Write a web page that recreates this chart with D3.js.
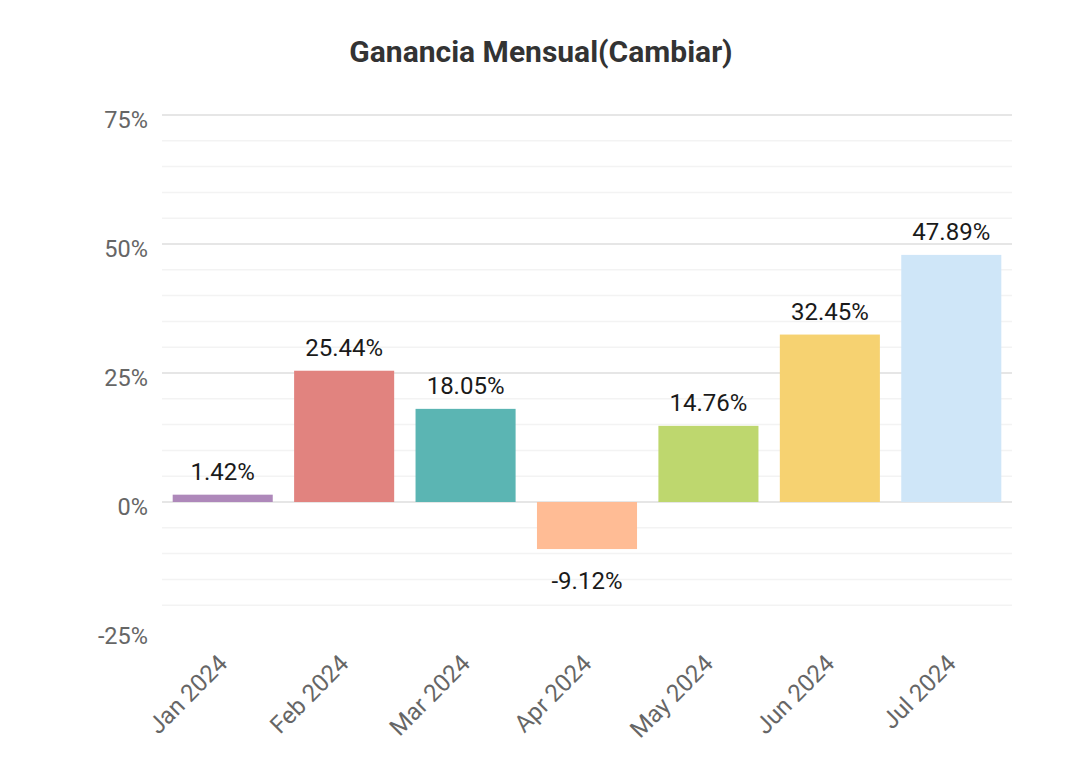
<!DOCTYPE html>
<html>
<head>
    <meta charset="utf-8">
    <title>Ganancia Mensual</title>
    <script src="https://d3js.org/d3.v7.min.js"></script>
    <style>
        body { margin: 0; background: #fff; }
        svg { font-family: Roboto, "Noto Sans", sans-serif; }
    </style>
</head>
<body>
<svg id="chart" width="1080" height="779"></svg>
<script>
    const months = ["Jan 2024", "Feb 2024", "Mar 2024", "Apr 2024", "May 2024", "Jun 2024", "Jul 2024"];
    const gains = [1.42, 25.44, 18.05, -9.12, 14.76, 32.45, 47.89];
    const barColors = ["#ae88ba", "#e1837f", "#5bb5b3", "#ffbc95", "#bed76e", "#f6d271", "#cfe6f8"];
    const yTicks = [-25, 0, 25, 50, 75];
    const minorTicks = d3.range(-20, 76, 5);

    const svg = d3.select("#chart");
    const left = 162, right = 1012;

    const x = d3.scaleBand()
        .domain(months)
        .range([left, right])
        .paddingInner(0.176)
        .paddingOuter(0.088);

    const y = d3.scaleLinear()
        .domain([-25, 75])
        .range([631, 115]);

    // grid lines
    svg.append("g")
        .selectAll("line")
        .data(minorTicks)
        .join("line")
        .attr("x1", left)
        .attr("x2", right)
        .attr("y1", d => y(d))
        .attr("y2", d => y(d))
        .attr("stroke", d => d % 25 === 0 ? "#e6e6e6" : "#f3f3f3")
        .attr("stroke-width", d => d % 25 === 0 ? 2 : 1.5);

    // y axis labels
    svg.append("g")
        .selectAll("text")
        .data(yTicks)
        .join("text")
        .attr("x", 148)
        .attr("y", d => y(d) + 5)
        .attr("dy", "0.35em")
        .attr("text-anchor", "end")
        .attr("fill", "#666")
        .attr("font-size", 23.5)
        .text(d => d + "%");

    // bars
    svg.append("g")
        .selectAll("rect")
        .data(gains)
        .join("rect")
        .attr("x", (d, i) => x(months[i]))
        .attr("width", x.bandwidth())
        .attr("y", d => y(Math.max(0, d)))
        .attr("height", d => Math.abs(y(d) - y(0)))
        .attr("fill", (d, i) => barColors[i]);

    // value labels
    svg.append("g")
        .selectAll("text")
        .data(gains)
        .join("text")
        .attr("x", (d, i) => x(months[i]) + x.bandwidth() / 2)
        .attr("y", d => d >= 0 ? y(d) - 15 : y(d) + 40)
        .attr("text-anchor", "middle")
        .attr("fill", "#1a1a1a")
        .attr("font-size", 24)
        .text(d => d.toFixed(2) + "%");

    // x labels
    svg.append("g")
        .selectAll("text")
        .data(months)
        .join("text")
        .attr("transform", d => `translate(${x(d) + x.bandwidth() / 2 + 6},${665}) rotate(-45)`)
        .attr("text-anchor", "end")
        .attr("fill", "#666")
        .attr("font-size", 24)
        .text(d => d);

    // title
    svg.append("text")
        .attr("x", 541)
        .attr("y", 62)
        .attr("text-anchor", "middle")
        .attr("font-size", 30)
        .attr("font-weight", "bold")
        .attr("fill", "#333")
        .text("Ganancia Mensual(Cambiar)");
</script>
</body>
</html>
